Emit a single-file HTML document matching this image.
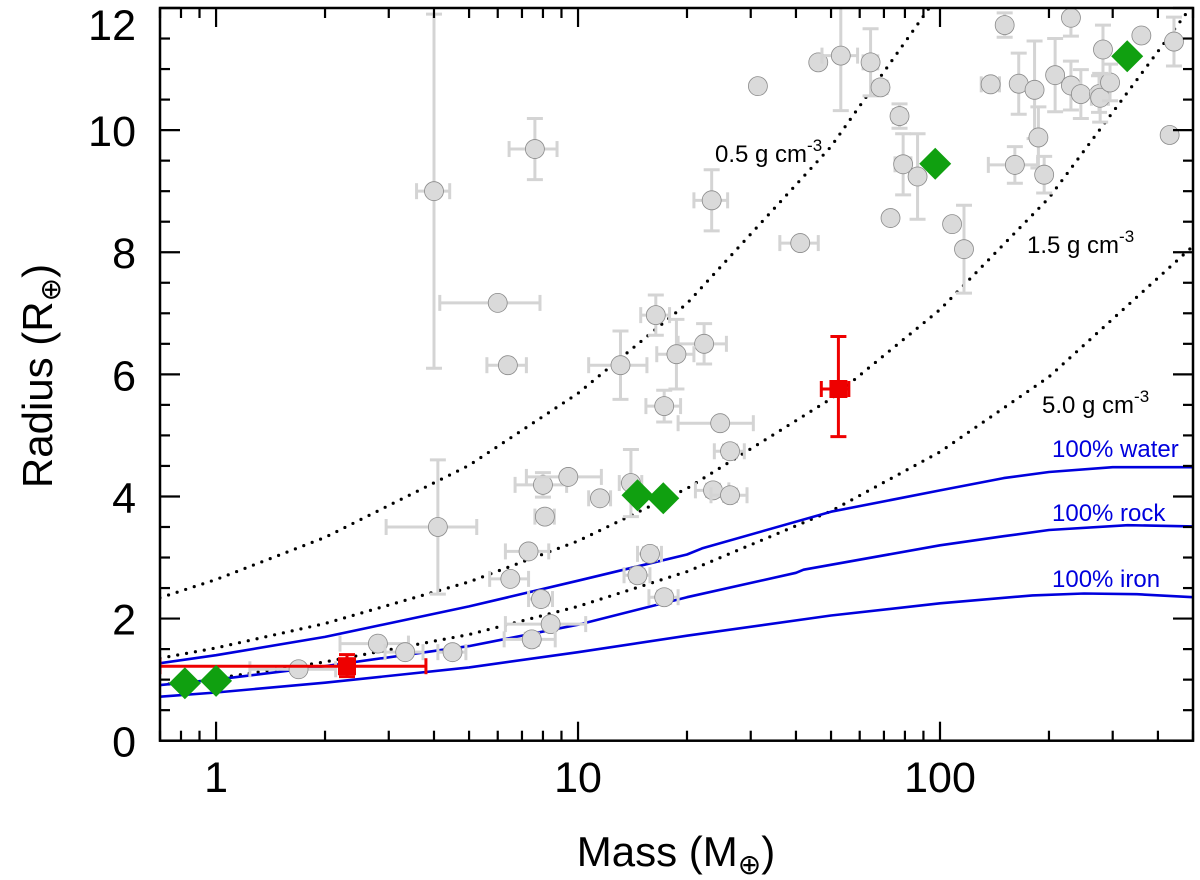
<!DOCTYPE html>
<html><head><meta charset="utf-8"><style>
html,body{margin:0;padding:0;background:#fff;}
svg{display:block;font-family:"Liberation Sans",sans-serif;}
</style></head><body>
<svg id="chart" width="1200" height="880" viewBox="0 0 1200 880" xmlns="http://www.w3.org/2000/svg" style="position:absolute;left:0;top:0">
<defs><clipPath id="clip"><rect x="160" y="8" width="1033" height="733"/></clipPath></defs>
<g id="plot" clip-path="url(#clip)"></g>
<g id="axes"></g>
</svg>
<script>
// ---- data ----
const grayMass = [4.0,7.6,23.4,6.0,6.4,16.4,22.3,18.7,13.1,17.3,24.7,26.3,8.0,9.4,4.1,14.0,23.6,26.3,11.5,
  1.69,2.8,3.33,4.5,7.3,6.5,7.9,8.4,7.45,8.1,15.8,14.6,17.3,
  31.4,46.1,53.2,64.3,68.5,77.3,79.1,86.7,41.1,73,108,116.5,150.9,138,165,182.5,208,230,245,275,277,295,282,360,443,230,187,161,194,431];
const grayRadius = [9.0,9.69,8.85,7.17,6.15,6.97,6.5,6.33,6.15,5.48,5.2,4.74,4.19,4.32,3.5,4.22,4.1,4.02,3.97,
  1.17,1.59,1.45,1.45,3.1,2.65,2.32,1.91,1.66,3.67,3.06,2.71,2.35,
  10.72,11.11,11.22,11.11,10.7,10.23,9.44,9.24,8.15,8.56,8.46,8.05,11.72,10.75,10.76,10.66,10.9,10.73,10.59,10.59,10.53,10.78,11.32,11.55,11.45,11.84,9.88,9.43,9.27,9.92];
const grayMassErr = [0.42,1.15,2.5,1.85,0.8,1.5,3.4,2.2,2.4,1.9,5.8,2.5,1.3,2.2,1.15,1.0,2.5,3.0,0.8,
  0.45,0.6,0.4,0.4,1.0,0.8,0.6,2.1,1.2,0.5,1.2,1.2,1.6,
  0,0,6,3,2,3,4,0,5,0,0,0,0,8,0,0,0,0,0,0,15,0,0,0,0,0,0,25,0,0];
const grayRadErr = [2.9,0.5,0.5,0,0,0.33,0.33,0.57,0.56,0.26,0,0.1,0.2,0,1.1,0.55,0.1,0.1,0,
  0,0,0,0,0,0,0.1,0,0.1,0,0.1,0.1,0.1,
  0,0,0.9,0.55,0.1,0.2,0.5,0.7,0,0,0,0.72,0.2,0,0.5,0.8,0.6,0.4,0.4,0.3,0.4,0.3,0.4,0,0.4,0.3,0.5,0.3,0.3,0];
const greenMass = [0.82,1.0,14.6,17.2,97,329];
const greenRadius = [0.94,0.98,4.02,3.97,9.45,11.21];
const redMass = [2.3,52.4];
const redRadius = [1.22,5.76];
const redMassLo = [0.7,47];
const redMassHi = [3.8,56];
const redRadLo = [1.05,4.98];
const redRadHi = [1.41,6.62];
const densMass = [0.7,1,2,5,10,20,50,100,200,500];
const dens05 = [2.34,2.64,3.33,4.51,5.69,7.16,9.73,12.25,15.4,20.9];
const dens15 = [1.35,1.52,1.92,2.60,3.27,4.13,5.60,7.06,8.89,12.06];
const dens50 = [0.91,1.02,1.29,1.74,2.20,2.77,3.76,4.73,5.96,8.10];
const waterMass = [0.7,1,2,5,10,20,22,50,100,150,200,300,500];
const waterR = [1.27,1.4,1.7,2.2,2.62,3.05,3.15,3.75,4.1,4.3,4.4,4.48,4.48];
const rockMass = [0.7,1,2,5,10,20,40,42,100,150,200,330,500];
const rockR = [0.91,1.0,1.22,1.55,1.9,2.35,2.75,2.8,3.2,3.35,3.45,3.53,3.51];
const ironMass = [0.7,1,2,5,10,20,50,100,180,250,350,500];
const ironR = [0.72,0.79,0.95,1.2,1.45,1.72,2.05,2.25,2.38,2.41,2.4,2.35];
const xTickVals = [1,10,100];
const xTickLabels = ["1","10","100"];
const yTickVals = [0,2,4,6,8,10,12];
const yTickLabels = ["0","2","4","6","8","10","12"];

// ---- axes ----
const X0=160,X1=1193,Y0=740.7,Y1=8;
const xmin=Math.log10(0.7),xmax=Math.log10(500);
function X(m){return X0+(Math.log10(m)-xmin)/(xmax-xmin)*(X1-X0);}
function Y(r){return Y0-(r/12)*(Y0-Y1);}
const NS="http://www.w3.org/2000/svg";
function mk(tag,attrs,parent){const e=document.createElementNS(NS,tag);for(const k in attrs)e.setAttribute(k,attrs[k]);parent.appendChild(e);return e;}
const plot=document.getElementById('plot'), axes=document.getElementById('axes');

function curve(ms,rs,name,style){
  let d='';ms.forEach((m,i)=>{d+=(i?'L':'M')+X(m).toFixed(1)+','+Y(rs[i]).toFixed(1);});
  const p=mk('path',Object.assign({d:d,fill:'none','stroke-linejoin':'round'},style),plot);
  
  
}
const dotStyle={stroke:'#000','stroke-width':3.2,'stroke-linecap':'round','stroke-dasharray':'0 9'};
curve(densMass,dens05,'density-curve-0.5',dotStyle);
curve(densMass,dens15,'density-curve-1.5',dotStyle);
curve(densMass,dens50,'density-curve-5.0',dotStyle);
const blueStyle={stroke:'#0000dd','stroke-width':2.6};
curve(waterMass,waterR,'water-curve',blueStyle);
curve(rockMass,rockR,'rock-curve',blueStyle);
curve(ironMass,ironR,'iron-curve',blueStyle);

const gcol='#d4d4d4';
grayMass.forEach((m,i)=>{
  const g=mk('g',{},plot);
  
  
  const cx=X(m),cy=Y(grayRadius[i]);
  const dm=grayMassErr[i],dr=grayRadErr[i];
  if(dm>0){const a=X(Math.max(m-dm,0.5)),b=X(m+dm);
    mk('line',{x1:a,y1:cy,x2:b,y2:cy,stroke:gcol,'stroke-width':3},g);
    mk('line',{x1:a,y1:cy-8,x2:a,y2:cy+8,stroke:gcol,'stroke-width':3},g);
    mk('line',{x1:b,y1:cy-8,x2:b,y2:cy+8,stroke:gcol,'stroke-width':3},g);}
  if(dr>0){const a=Y(grayRadius[i]-dr),b=Y(grayRadius[i]+dr);
    mk('line',{x1:cx,y1:a,x2:cx,y2:b,stroke:gcol,'stroke-width':3},g);
    mk('line',{x1:cx-8,y1:a,x2:cx+8,y2:a,stroke:gcol,'stroke-width':3},g);
    mk('line',{x1:cx-8,y1:b,x2:cx+8,y2:b,stroke:gcol,'stroke-width':3},g);}
  mk('circle',{cx:cx,cy:cy,r:9.5,fill:'#dadada',stroke:'#8a8a8a','stroke-width':0.8},g);
});
redMass.forEach((m,i)=>{
  const g=mk('g',{},plot);
  
  
  const cx=X(m),cy=Y(redRadius[i]),a=X(redMassLo[i]),b=X(redMassHi[i]),c=Y(redRadLo[i]),d=Y(redRadHi[i]);
  const st={stroke:'#ee0000','stroke-width':3};
  mk('line',Object.assign({x1:a,y1:cy,x2:b,y2:cy},st),g);
  mk('line',Object.assign({x1:a,y1:cy-8,x2:a,y2:cy+8},st),g);
  mk('line',Object.assign({x1:b,y1:cy-8,x2:b,y2:cy+8},st),g);
  mk('line',Object.assign({x1:cx,y1:c,x2:cx,y2:d},st),g);
  mk('line',Object.assign({x1:cx-8,y1:c,x2:cx+8,y2:c},st),g);
  mk('line',Object.assign({x1:cx-8,y1:d,x2:cx+8,y2:d},st),g);
  mk('rect',{x:cx-9,y:cy-9,width:18,height:18,fill:'#ee0000'},g);
});
greenMass.forEach((m,i)=>{
  const cx=X(m),cy=Y(greenRadius[i]),s=16;
  const p=mk('polygon',{points:`${cx},${cy-s} ${cx+s},${cy} ${cx},${cy+s} ${cx-s},${cy}`,fill:'#10a010'},plot);
  
  
});

const fr=mk('rect',{x:X0,y:Y1,width:X1-X0,height:Y0-Y1,fill:'none',stroke:'#000','stroke-width':2.5},axes);


function tk(x1,y1,x2,y2){mk('line',{x1:x1,y1:y1,x2:x2,y2:y2,stroke:'#000','stroke-width':2.2},axes);}
for(let dec=0.1;dec<=100;dec*=10){for(let k=1;k<10;k++){const m=dec*k;if(m<0.7||m>500)continue;
  const x=X(m),L=(k===1)?19:10;tk(x,Y0,x,Y0-L);tk(x,Y1,x,Y1+L);}}
for(let r=0;r<=12;r+=0.5){const y=Y(r),L=(r%2===0)?20:10;tk(X0,y,X0+L,y);tk(X1,y,X1-L,y);}
xTickVals.forEach((v,i)=>{const t=mk('text',{x:X(v),y:792,'text-anchor':'middle','font-size':43,fill:'#000'},axes);t.textContent=xTickLabels[i];
  
  });
yTickVals.forEach((v,i)=>{const yy=Math.max(Y(v)+16,40);const t=mk('text',{x:136,y:yy,'text-anchor':'end','font-size':43,fill:'#000'},axes);t.textContent=yTickLabels[i];
  
  });
</script>
<svg style="position:absolute;left:0;top:0" width="1200" height="880">
<text x="676" y="866" text-anchor="middle" font-size="42" font-family="Liberation Sans, DejaVu Sans, sans-serif">Mass (M<tspan font-family="DejaVu Sans" font-size="28" dy="8">⊕</tspan><tspan dy="-8">)</tspan></text>
<text transform="translate(52,376) rotate(-90)" text-anchor="middle" font-size="42" font-family="Liberation Sans, DejaVu Sans, sans-serif">Radius (R<tspan font-family="DejaVu Sans" font-size="28" dy="8">⊕</tspan><tspan dy="-8">)</tspan></text>
<text x="715" y="162" font-size="24" font-family="Liberation Sans, sans-serif">0.5 g cm<tspan font-size="17" dy="-11">-3</tspan></text>
<text x="1027" y="253" font-size="24" font-family="Liberation Sans, sans-serif">1.5 g cm<tspan font-size="17" dy="-11">-3</tspan></text>
<text x="1042" y="413" font-size="24" font-family="Liberation Sans, sans-serif">5.0 g cm<tspan font-size="17" dy="-11">-3</tspan></text>
<text x="1052" y="457" font-size="24" fill="#0000dd" font-family="Liberation Sans, sans-serif">100% water</text>
<text x="1052" y="521" font-size="24" fill="#0000dd" font-family="Liberation Sans, sans-serif">100% rock</text>
<text x="1052" y="587" font-size="24" fill="#0000dd" font-family="Liberation Sans, sans-serif">100% iron</text>
</svg>
</body></html>
